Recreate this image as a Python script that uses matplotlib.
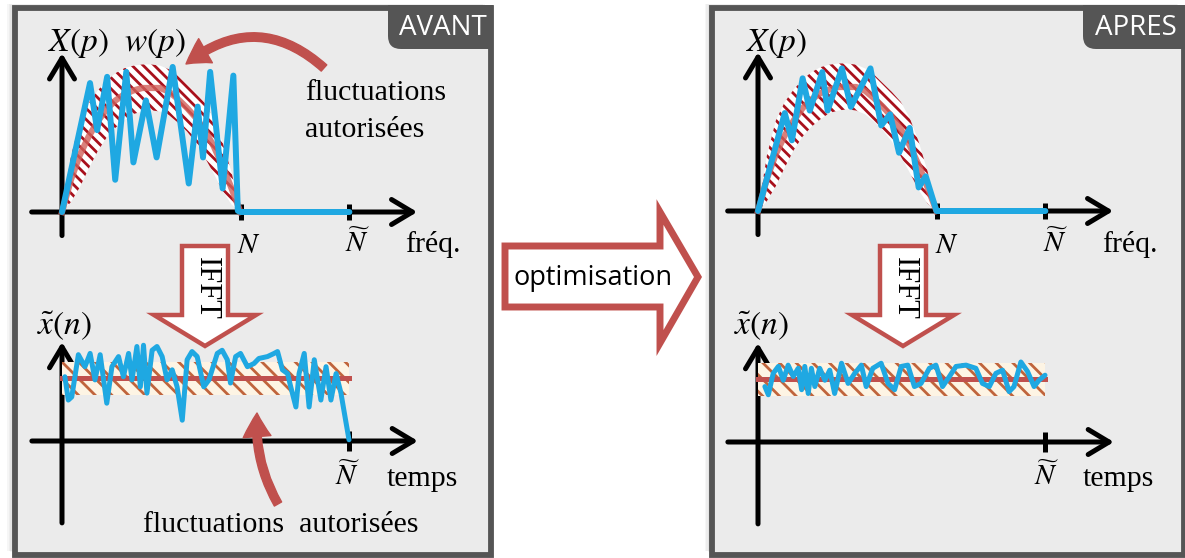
import matplotlib.pyplot as plt
from matplotlib.patches import Rectangle, Polygon, FancyArrowPatch, FancyBboxPatch

plt.rcParams['mathtext.fontset'] = 'stix'
plt.rcParams['hatch.linewidth'] = 2.0

W, H = 1185, 558
SERIF = ['Liberation Serif', 'DejaVu Serif']

# allowed envelope w(p), frequency axis normalised so that N = 1
p_env = [0.0, 0.05, 0.1, 0.15, 0.2, 0.25, 0.3, 0.35, 0.4, 0.45, 0.5,
         0.55, 0.6, 0.65, 0.7, 0.75, 0.8, 0.85, 0.9, 0.95, 1.0]
w_upper = [0.0, 0.45, 0.73, 0.88, 0.98, 1.06, 1.12, 1.16, 1.18, 1.19, 1.19,
           1.18, 1.15, 1.10, 1.03, 0.96, 0.88, 0.75, 0.56, 0.32, 0.0]
w_lower = [0.0, 0.08, 0.20, 0.35, 0.49, 0.60, 0.68, 0.74, 0.79, 0.81, 0.82,
           0.81, 0.78, 0.72, 0.65, 0.56, 0.44, 0.31, 0.17, 0.06, 0.0]
w_center = [0.0, 0.26, 0.46, 0.61, 0.73, 0.83, 0.90, 0.95, 0.98, 1.0, 1.0,
            1.0, 0.97, 0.91, 0.84, 0.76, 0.66, 0.53, 0.37, 0.19, 0.0]
N_tilde_freq = 1.61

# spectrum before optimisation
p_avant = [0.0, 0.157, 0.197, 0.253, 0.298, 0.36, 0.40, 0.47, 0.53, 0.62,
           0.71, 0.76, 0.79, 0.83, 0.90, 0.96, 0.985, 1.0, 1.61]
X_avant = [0.0, 1.04, 0.66, 1.09, 0.26, 1.13, 0.40, 0.90, 0.44, 1.17,
           0.23, 0.85, 0.44, 1.13, 0.19, 1.10, 0.01, 0.0, 0.0]

# spectrum after optimisation
p_apres = [0.0, 0.15, 0.19, 0.25, 0.29, 0.36, 0.39, 0.47, 0.52, 0.63,
           0.69, 0.74, 0.79, 0.85, 0.90, 0.94, 1.0, 1.61]
X_apres = [0.0, 0.79, 0.57, 1.07, 0.81, 1.12, 0.81, 1.15, 0.84, 1.15,
           0.69, 0.78, 0.47, 0.67, 0.19, 0.28, 0.0, 0.0]

# time signal before optimisation (time axis normalised so that N~ = 1)
n_avant = [0.010, 0.022, 0.034, 0.057, 0.080, 0.098, 0.115, 0.133, 0.156, 0.174,
           0.197, 0.214, 0.232, 0.244, 0.261, 0.273, 0.284, 0.296, 0.314, 0.331,
           0.349, 0.366, 0.384, 0.401, 0.419, 0.436, 0.453, 0.471, 0.494, 0.512,
           0.541, 0.558, 0.576, 0.587, 0.605, 0.622, 0.646, 0.669, 0.686, 0.716,
           0.739, 0.751, 0.768, 0.786, 0.797, 0.815, 0.826, 0.844, 0.861, 0.879,
           0.902, 0.920, 0.937, 0.955, 0.972, 0.984, 1.0]
x_avant = [1.02, 0.65, 0.70, 1.37, 1.18, 1.39, 0.97, 1.37, 0.60, 1.18,
           1.34, 1.02, 1.39, 0.97, 1.50, 0.86, 1.52, 0.76, 1.44, 1.50,
           1.34, 0.97, 1.13, 0.86, 0.33, 1.29, 1.42, 1.34, 0.86, 0.97,
           1.39, 1.44, 1.29, 0.92, 1.34, 1.39, 1.18, 1.23, 1.31, 1.34,
           1.39, 1.42, 1.13, 1.07, 0.86, 0.54, 1.07, 1.39, 0.54, 1.29,
           0.65, 1.18, 0.65, 1.07, 0.76, 0.44, 0.02]

# time signal after optimisation
n_apres = [0.024, 0.036, 0.053, 0.071, 0.088, 0.105, 0.123, 0.140, 0.152, 0.163,
           0.175, 0.186, 0.198, 0.215, 0.233, 0.250, 0.267, 0.291, 0.314, 0.337,
           0.360, 0.377, 0.400, 0.429, 0.453, 0.476, 0.499, 0.522, 0.545, 0.568,
           0.597, 0.620, 0.643, 0.667, 0.690, 0.725, 0.759, 0.782, 0.806, 0.829,
           0.852, 0.875, 0.892, 0.916, 0.939, 0.962, 0.979, 1.0]
x_apres = [0.88, 0.75, 1.09, 1.20, 0.98, 1.22, 1.04, 1.17, 0.83, 1.20,
           0.77, 1.17, 0.88, 1.17, 0.98, 1.14, 0.77, 1.25, 0.93, 1.09,
           1.22, 0.88, 1.17, 1.25, 0.93, 0.83, 1.20, 1.22, 0.88, 0.93,
           1.17, 1.22, 0.88, 1.04, 1.20, 1.22, 1.17, 0.93, 0.88, 1.09,
           1.14, 0.80, 0.88, 1.27, 1.12, 0.88, 0.98, 1.06]

n_band = [0.0, 1.0]
band_lo = [0.73, 0.73]
band_hi = [1.25, 1.25]
baseline = [1.0, 1.0]

BLUE = '#1fa8e2'
RED = '#c0504d'
FRAME = '#555555'

fig = plt.figure(figsize=(W / 100, H / 100), dpi=100)

base = fig.add_axes([0, 0, 1, 1], zorder=0)
base.set_xlim(0, W)
base.set_ylim(H, 0)
base.axis('off')

over = fig.add_axes([0, 0, 1, 1], zorder=5)
over.set_xlim(0, W)
over.set_ylim(H, 0)
over.axis('off')


def plot_axes(x0, y0, sx, sy):
    # an axes spanning the figure whose data origin sits at pixel (x0, y0)
    ax = fig.add_axes([0, 0, 1, 1], zorder=2)
    ax.set_xlim(-x0 / sx, (W - x0) / sx)
    ax.set_ylim(-(H - y0) / sy, y0 / sy)
    ax.axis('off')
    return ax


def draw_axes(ax, xa, xb, ya, yb, ticks, tick_h):
    head = '->,head_length=0.75,head_width=0.45'
    ax.add_patch(FancyArrowPatch((xa, 0), (xb, 0), arrowstyle=head, mutation_scale=20,
                                 lw=3.6, color='k', shrinkA=0, shrinkB=0, zorder=1))
    ax.add_patch(FancyArrowPatch((0, ya), (0, yb), arrowstyle=head, mutation_scale=20,
                                 lw=3.6, color='k', shrinkA=0, shrinkB=0, zorder=1))
    for t in ticks:
        ax.plot([t, t], [-tick_h, tick_h], color='k', lw=3.6, solid_capstyle='butt', zorder=1)


# panel frames
for fx, fw in [(14.5, 476), (712, 472)]:
    for k in range(1, 6):
        base.add_patch(Rectangle((fx - 1.5 * k, 7.5 - 0.8 * k), fw, 547, facecolor='k',
                                 edgecolor='none', alpha=0.035, zorder=0))
    base.add_patch(Rectangle((fx, 7.5), fw, 547.5, facecolor='#ebebeb',
                             edgecolor=FRAME, lw=4.2, zorder=1))

# corner tabs
for tx, tw, label in [(388, 105, 'AVANT'), (1083, 102, 'APRES')]:
    base.add_patch(FancyBboxPatch((tx, 5), tw, 44, boxstyle='round,pad=0,rounding_size=13',
                                  facecolor=FRAME, edgecolor='none', zorder=2))
    base.add_patch(Rectangle((tx, 5), tw, 20, facecolor=FRAME, edgecolor='none', zorder=2))
    base.add_patch(Rectangle((tx + 20, 5), tw - 20, 44, facecolor=FRAME, edgecolor='none', zorder=2))
    base.text(tx + tw / 2 + 2, 28, label, color='white', fontsize=20, family='Open Sans',
              ha='center', va='center', zorder=3)

# IFFT arrows
for cx in [205, 903]:
    pts = [(cx - 23, 246), (cx + 23, 246), (cx + 23, 315), (cx + 51, 315),
           (cx, 346), (cx - 51, 315), (cx - 23, 315)]
    base.add_patch(Polygon(pts, closed=True, facecolor='white', edgecolor=RED, lw=3.2,
                           joinstyle='miter', zorder=3))
    base.text(cx + 1, 288, 'IFFT', rotation=-90, fontsize=22, family=SERIF,
              ha='center', va='center', zorder=4)

# optimisation arrow
opt = [(505, 246), (660, 246), (660, 212), (698, 277), (660, 343), (660, 307), (505, 307)]
base.add_patch(Polygon(opt, closed=True, facecolor='white', edgecolor=RED, lw=5,
                       joinstyle='miter', zorder=3))
base.text(593, 278, 'optimisation', fontsize=19.5, family='Open Sans',
          ha='center', va='center', zorder=4)

# frequency plots
for x0, y0, p_sig, X_sig in [(62, 212, p_avant, X_avant), (758, 211, p_apres, X_apres)]:
    ax = plot_axes(x0, y0, 178.5, 124)
    draw_axes(ax, -0.17, 1.99, -0.19, 1.28, [1.0, N_tilde_freq], 0.065)
    ax.fill_between(p_env, w_lower, w_upper, facecolor='white', edgecolor='#a8101c',
                    hatch='\\\\\\', lw=0, zorder=2)
    ax.plot(p_env, w_center, color='#d0605a', alpha=0.8, lw=4.5, zorder=3)
    ax.plot(p_sig, X_sig, color=BLUE, lw=4.3, solid_joinstyle='round',
            solid_capstyle='round', zorder=4)

# time plots
for x0, y0, n_sig, x_sig in [(62, 441, n_avant, x_avant), (758, 442, n_apres, x_apres)]:
    ax = plot_axes(x0, y0, 287, 63)
    draw_axes(ax, -0.105, 1.24, -1.3, 1.57, [1.0], 0.16)
    ax.fill_between(n_band, band_lo, band_hi, facecolor='#fdf4e4', edgecolor='#c0643c',
                    hatch='\\\\', lw=0, zorder=2)
    ax.plot(n_band, baseline, color=RED, lw=3.6, zorder=3)
    ax.plot(n_sig, x_sig, color=BLUE, lw=3.6, solid_joinstyle='round',
            solid_capstyle='round', zorder=4)

# labels
math_kw = dict(fontsize=24, va='center')
over.text(48, 43, r'$X(p)\ \ w(p)$', ha='left', **math_kw)
over.text(746, 43, r'$X(p)$', ha='left', **math_kw)
over.text(37, 325, r'$\tilde{x}(n)$', ha='left', **math_kw)
over.text(734, 325, r'$\tilde{x}(n)$', ha='left', **math_kw)
for nx, ntx, fx in [(249, 357, 405), (947, 1055, 1102)]:
    over.text(nx, 245, r'$N$', ha='center', fontsize=21, va='center')
    over.text(ntx, 243, r'$\widetilde{N}$', ha='center', fontsize=21, va='center')
    over.text(fx, 245, 'fréq.', ha='left', fontsize=21.5, family=SERIF, va='center')
for ntx, tx in [(347, 387), (1046, 1083)]:
    over.text(ntx, 476, r'$\widetilde{N}$', ha='center', fontsize=21, va='center')
    over.text(tx, 479, 'temps', ha='left', fontsize=21.5, family=SERIF, va='center')

over.text(305, 93, 'fluctuations', ha='left', va='center', fontsize=21.5, family=SERIF)
over.text(305, 130, 'autorisées', ha='left', va='center', fontsize=21.5, family=SERIF)
over.text(143, 525, 'fluctuations  autorisées', ha='left', va='center', fontsize=21.5, family=SERIF)

# red pointers to the allowed fluctuations
arrow_style = 'simple,head_length=0.85,head_width=1.0,tail_width=0.3'
over.add_patch(FancyArrowPatch((324, 68), (186, 64), connectionstyle='arc3,rad=0.42',
                               arrowstyle=arrow_style, mutation_scale=20, color=RED,
                               shrinkA=0, shrinkB=0))
over.add_patch(FancyArrowPatch((278, 504), (257, 413), connectionstyle='arc3,rad=-0.15',
                               arrowstyle=arrow_style, mutation_scale=20, color=RED,
                               shrinkA=0, shrinkB=0))

fig.savefig('out.png', dpi=100)
